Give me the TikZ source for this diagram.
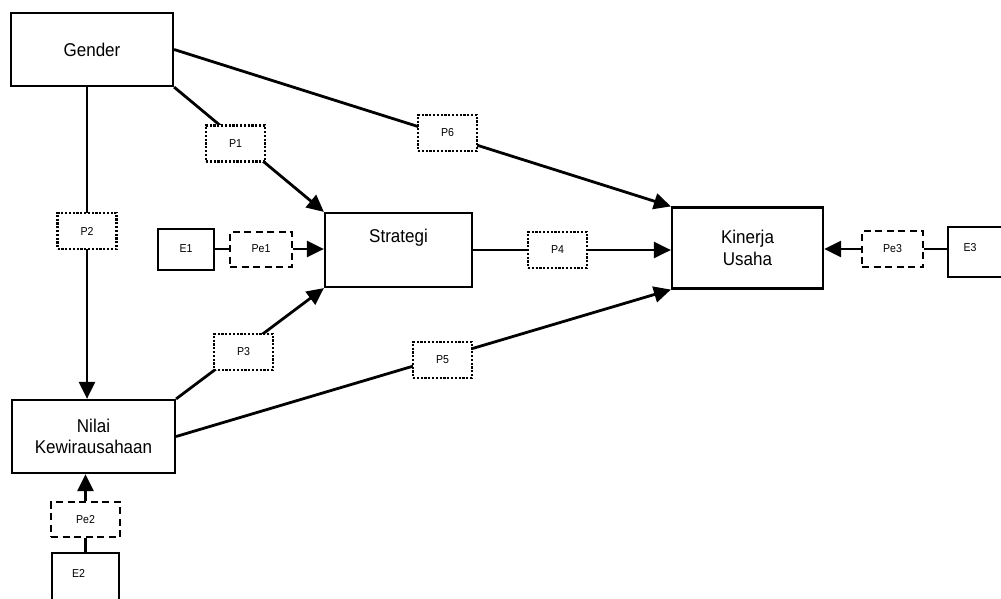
\documentclass[tikz,border=0pt]{standalone}
\usepackage{fontspec}
\setmainfont[FakeStretch=0.92]{Liberation Sans}
\usetikzlibrary{arrows.meta}
\tikzset{
  bigtxt/.style={font=\fontsize{18.5}{21.5}\selectfont, align=center},
  smalltxt/.style={font=\fontsize{11.5}{13}\selectfont},
  mainbox/.style={draw, line width=2.2pt, fill=white, rectangle, inner sep=0pt, bigtxt},
  ebox/.style={draw, line width=2pt, fill=white, rectangle, inner sep=0pt, smalltxt},
  pbox/.style={draw, line width=2.2pt, dash pattern=on 2.2pt off 1.6pt, fill=white, rectangle, inner sep=0pt, smalltxt, minimum width=59pt, minimum height=36pt},
  pebox/.style={draw, line width=2pt, dash pattern=on 7pt off 4.5pt, fill=white, rectangle, inner sep=0pt, smalltxt},
  conn/.style={line width=2.8pt},
  arr/.style={conn, -{Triangle[length=17pt,width=16pt]}},
}
\begin{document}
\begin{tikzpicture}[x=1pt,y=-1pt]
\useasboundingbox (0,0) rectangle (1001,599);
% main boxes
\node[mainbox, minimum width=162pt, minimum height=73pt] (Gender) at (92,49.5) {Gender};
\node[mainbox, minimum width=147pt, minimum height=74pt, label={[bigtxt, yshift=12pt]center:Strategi}] (Strategi) at (398.5,250) {};
\node[mainbox, minimum width=151pt, minimum height=81pt] (Kinerja) at (747.5,248) {Kinerja\\Usaha};
\node[mainbox, minimum width=163pt, minimum height=73pt] (Nilai) at (93.5,436.5) {Nilai\\Kewirausahaan};
% error boxes
\node[ebox, minimum width=56pt, minimum height=41pt] (E1) at (186,249) {E1};
\node[pebox, minimum width=62pt, minimum height=35pt] (Pe1) at (261,249) {Pe1};
\node[ebox, minimum width=62pt, minimum height=50pt, label={[smalltxt, xshift=-9pt, yshift=4pt]center:E3}] (E3) at (979,252) {};
\node[pebox, minimum width=61pt, minimum height=36pt] (Pe3) at (892.5,249) {Pe3};
\node[pebox, minimum width=69pt, minimum height=35pt] (Pe2) at (85.5,519.5) {Pe2};
\node[ebox, minimum width=67pt, minimum height=57pt, label={[smalltxt, xshift=-7pt, yshift=8pt]center:E2}] (E2) at (85.5,581.5) {};
% path boxes positions
\coordinate (p1) at (235.5,143.5);
\coordinate (p2) at (87,231);
\coordinate (p3) at (243.5,352);
\coordinate (p4) at (557.5,250);
\coordinate (p5) at (442.5,360);
\coordinate (p6) at (447.5,133);
% connectors
\draw[arr] (Gender.south east) -- (Strategi.north west);
\draw[arr] (Gender.south -| p2) -- (Nilai.north -| p2);
\draw[arr] (Gender.east) -- (Kinerja.north west);
\draw[arr] (Strategi.east) -- (Strategi.east -| Kinerja.west);
\draw[arr] (Nilai.north east) -- (Strategi.south west);
\draw[arr] (Nilai.east) -- (Kinerja.south west);
\draw[conn] (E1.east) -- (Pe1.west);
\draw[arr] (Pe1.east) -- (Pe1.east -| Strategi.west);
\draw[conn] (E3.west |- Pe3.east) -- (Pe3.east);
\draw[arr] (Pe3.west) -- (Pe3.west -| Kinerja.east);
\draw[conn] (E2.north) -- (Pe2.south);
\draw[arr] (Pe2.north) -- (Nilai.south -| Pe2.north);
% path coefficient boxes
\node[pbox] (P1) at (p1) {P1};
\node[pbox] (P2) at (p2) {P2};
\node[pbox] (P3) at (p3) {P3};
\node[pbox] (P4) at (p4) {P4};
\node[pbox] (P5) at (p5) {P5};
\node[pbox] (P6) at (p6) {P6};
\end{tikzpicture}
\end{document}
